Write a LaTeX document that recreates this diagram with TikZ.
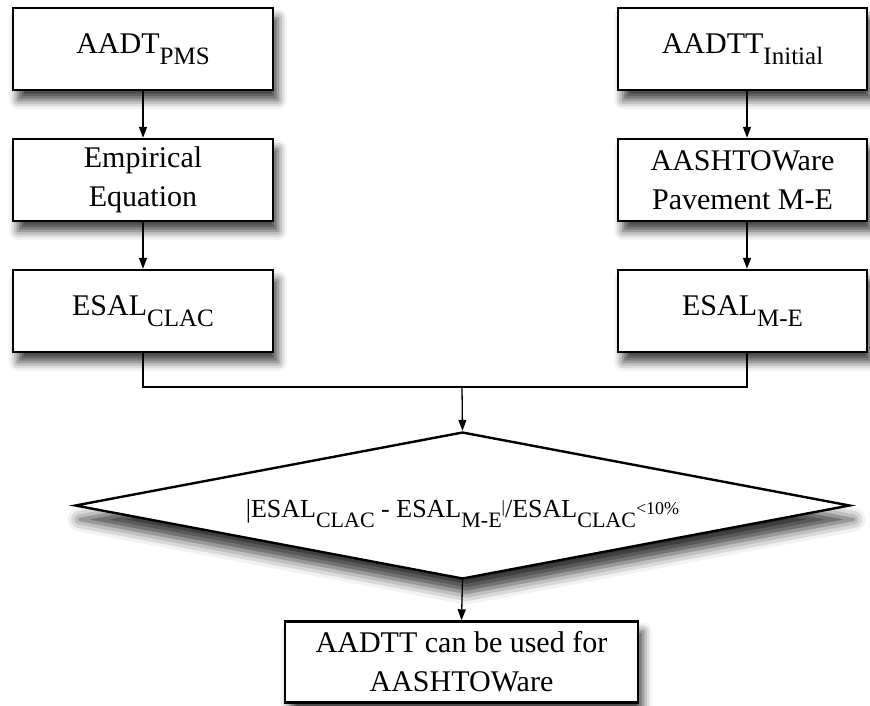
\documentclass[tikz,border=0pt]{standalone}
\usepackage{fontspec}
\setmainfont{Liberation Serif}
\usetikzlibrary{arrows.meta,shapes.geometric,shadows.blur}

\newcommand{\boxsub}[1]{\raisebox{-11pt}{\fontsize{25}{25}\selectfont #1}}
\newcommand{\checksub}[1]{\raisebox{-10pt}{\fontsize{22}{22}\selectfont #1}}

\begin{document}
\begin{tikzpicture}[x=1pt,y=-1pt,
    every node/.style={font=\fontsize{30}{39}\selectfont, align=center, inner sep=0pt},
    boxshadow/.style={blur shadow={shadow xshift=5pt, shadow yshift=-10pt,
        shadow blur radius=9pt, shadow opacity=75}},
    stepbox/.style={draw, line width=2.4pt, fill=white, boxshadow},
    leftbox/.style={stepbox, minimum width=260pt, minimum height=82pt},
    rightbox/.style={stepbox, minimum width=249pt, minimum height=82pt},
    checkbox/.style={diamond, aspect=5.27, draw, line width=2.4pt, fill=white,
        minimum width=775pt, minimum height=147pt,
        font=\fontsize{26}{30}\selectfont, text height=30pt, text depth=6pt,
        blur shadow={shadow xshift=4pt, shadow yshift=-14pt,
        shadow blur radius=12pt, shadow opacity=80}},
    link/.style={line width=1.3pt, -{Triangle[length=11pt,width=8pt]}},
    mergeline/.style={line width=1.3pt}]
\useasboundingbox (0,0) rectangle (870,705);

% left column
\node[leftbox] (pms) at (143,49) {AADT\boxsub{PMS}};
\node[leftbox] (emp) at (143,180) {Empirical\\Equation};
\node[leftbox] (clac) at (143,311) {ESAL\boxsub{CLAC}};

% right column
\node[rightbox] (init) at (742.5,49) {AADTT\boxsub{Initial}};
\node[rightbox] (mepdg) at (742.5,180) {AASHTOWare\\Pavement M-E};
\node[rightbox] (me) at (742.5,311) {ESAL\boxsub{M-E}};

% check and result
\node[checkbox] (check) at (462.5,505.5) {|ESAL\checksub{CLAC} - ESAL\checksub{M-E}\raisebox{5pt}{\fontsize{17}{17}\selectfont|}/ESAL\checksub{CLAC}\raisebox{3pt}{\fontsize{18}{18}\selectfont<10\%}};
\node[stepbox, minimum width=353pt, minimum height=81pt] (use) at (461.5,662) {AADTT can be used for\\AASHTOWare};

\coordinate (merge) at (462,387);

\draw[link] (pms) -- (emp);
\draw[link] (emp) -- (clac);
\draw[link] ([xshift=4.5pt]init.south) -- ([xshift=4.5pt]mepdg.north);
\draw[link] ([xshift=4.5pt]mepdg.south) -- ([xshift=4.5pt]me.north);
\draw[mergeline] (clac.south) |- (merge) -| ([xshift=4.5pt]me.south);
\draw[link] (merge) -- (check.north);
\draw[link] (check.south) -- (use.north);
\end{tikzpicture}
\end{document}
